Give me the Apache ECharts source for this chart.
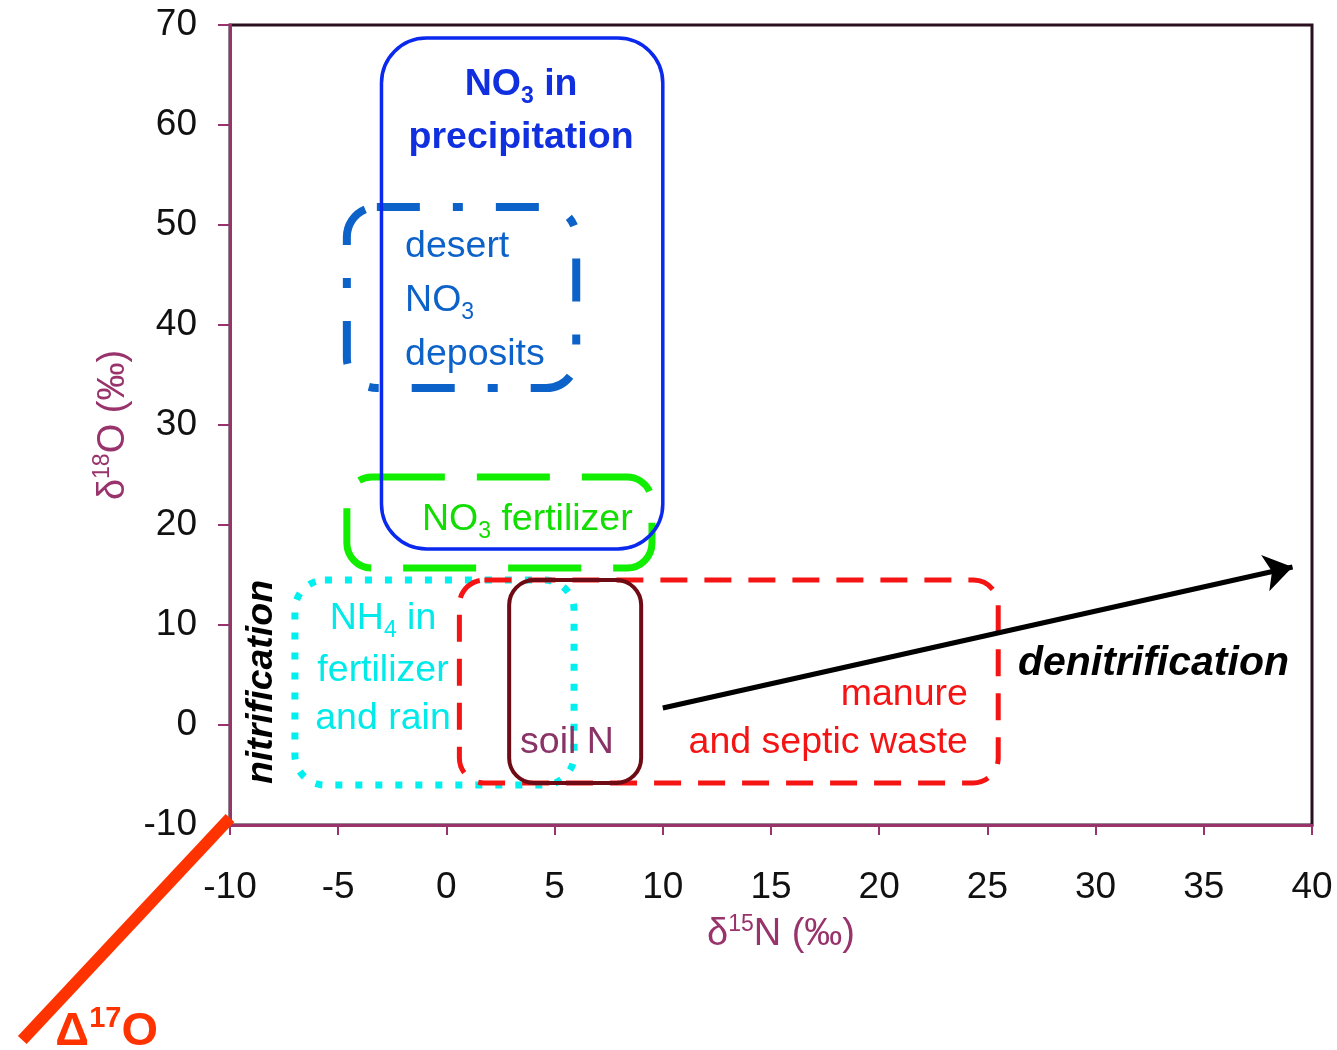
<!DOCTYPE html>
<html><head><meta charset="utf-8">
<script src="https://cdn.jsdelivr.net/npm/echarts@6/dist/echarts.min.js"></script>
<style>html,body{margin:0;padding:0;background:#fff}#c{width:1337px;height:1050px}</style>
</head><body><div id="c"></div>
<script>
// ---- data ----
const xTickValues = [-10, -5, 0, 5, 10, 15, 20, 25, 30, 35, 40];
const yTickValues = [-10, 0, 10, 20, 30, 40, 50, 60, 70];
const boxNames  = ['NO3 fertilizer', 'NH4 in fertilizer and rain', 'manure and septic waste', 'soil N', 'desert NO3 deposits', 'NO3 in precipitation'];
const boxN15Min = [-4.6, -7.0, 0.6, 2.9, -4.6, -3.0];
const boxN15Max = [9.5, 5.9, 25.5, 9.0, 6.0, 10.0];
const boxO18Min = [15.7, -6.0, -5.8, -5.8, 33.7, 17.6];
const boxO18Max = [24.8, 14.5, 14.5, 14.5, 51.8, 68.7];
const denitN15 = [10.0, 39.1];
const denitO18 = [1.7, 15.8];
const d17oN15 = [-10.0, -19.6];
const d17oO18 = [-9.3, -31.5];
// label anchor points (d15N, d18O)
const labelN15 = [3.45, 3.45, -1.91, -1.91, -1.91, -1.13, -2.93, -2.93, -2.93, 5.57, 24.1, 24.1, 26.41, -8.52, -15.7];
const labelO18 = [64.3, 59.0, 48.1, 42.7, 37.3, 20.8, 10.9, 5.7, 0.9, -1.5, 3.3, -1.5, 6.1, 4.3, -30.5];

// ---- styles ----
const FF = '"Liberation Sans", Arial, Helvetica, sans-serif';
const AX = '#99336b';
const boxStyles = [
  {stroke: '#11ee00', lineWidth: 7, lineDash: [73, 32], r: 25},
  {stroke: '#00f0f0', lineWidth: 7, lineDash: [7, 13], r: 30},
  {stroke: '#f51414', lineWidth: 5, lineDash: [27, 17], r: 25},
  {stroke: '#6e0b14', lineWidth: 4, lineDash: null, r: 25},
  {stroke: '#0d62c9', lineWidth: 8, lineDash: [43, 33, 10, 33], r: 30},
  {stroke: '#0a28ee', lineWidth: 3.5, lineDash: null, r: 45}
];
function tok(size, weight, fstyle, color, extra) {
  return Object.assign({fontSize: size, fontWeight: weight, fontStyle: fstyle, fontFamily: FF, fill: color}, extra || {});
}
function subRich(size, weight, color) {
  return {
    m: tok(size, weight, 'normal', color, {lineHeight: size + 4.5, verticalAlign: 'top'}),
    s: tok(Math.round(size * 0.62), weight, 'normal', color, {verticalAlign: 'bottom'})
  };
}
const BL = '#1030e0', DS = '#0d62c9', GR = '#11dd00', CY = '#00eaea', RD = '#f51414';
const TS = 37.5;
const SD = 5; // pixel nudge for text set with subscript rich style
const labelDefs = [
  {text: '{m|NO}{s|3}{m| in}', rich: subRich(TS, 'bold', BL), align: 'center', dy: SD},
  {text: '{m|precipitation}', rich: subRich(TS, 'bold', BL), align: 'center', dy: SD},
  {text: '{m|desert}', rich: subRich(TS, 'normal', DS), align: 'left', dy: SD},
  {text: '{m|NO}{s|3}', rich: subRich(TS, 'normal', DS), align: 'left', dy: SD},
  {text: '{m|deposits}', rich: subRich(TS, 'normal', DS), align: 'left', dy: SD},
  {text: '{m|NO}{s|3}{m| fertilizer}', rich: subRich(TS, 'normal', GR), align: 'left', dy: SD},
  {text: '{m|NH}{s|4}{m| in}', rich: subRich(TS, 'normal', CY), align: 'center', dy: SD},
  {text: '{m|fertilizer}', rich: subRich(TS, 'normal', CY), align: 'center', dy: SD},
  {text: '{m|and rain}', rich: subRich(TS, 'normal', CY), align: 'center', dy: SD},
  {text: '{m|soil N}', rich: subRich(TS, 'normal', '#8a3366'), align: 'center', dy: SD},
  {text: '{m|manure}', rich: subRich(TS, 'normal', RD), align: 'right', dy: SD},
  {text: '{m|and septic waste}', rich: subRich(TS, 'normal', RD), align: 'right', dy: SD},
  {text: '{b|denitrification}', rich: {b: tok(41, 'bold', 'italic', '#000', {lineHeight: 46})}, align: 'left'},
  {text: '{b|nitrification}', rich: {b: tok(37.5, 'bold', 'italic', '#000', {lineHeight: 42})}, align: 'center', rotate: Math.PI / 2},
  {text: '{a|Δ}{p|17}{a|O}', rich: {
      a: tok(47, 'bold', 'normal', '#ff3300', {lineHeight: 52, verticalAlign: 'bottom'}),
      p: tok(29, 'bold', 'normal', '#ff3300', {lineHeight: 24, verticalAlign: 'top'})
    }, align: 'center'}
];

const chart = echarts.init(document.getElementById('c'), null, {renderer: 'canvas'});
const boxData = boxNames.map((n, i) => ({name: n, value: [boxN15Min[i], boxN15Max[i], boxO18Min[i], boxO18Max[i]]}));
const labelData = labelN15.map((x, i) => [x, labelO18[i]]);

const nameRich = {
  d: {fontSize: 38, fontFamily: FF, color: AX, lineHeight: 44},
  p: {fontSize: 23, fontFamily: FF, color: AX, lineHeight: 16, verticalAlign: 'top'},
  n: {fontSize: 38, fontFamily: FF, color: AX, lineHeight: 44}
};

chart.setOption({
  animation: false,
  backgroundColor: '#fff',
  grid: {left: 230, right: 25, top: 25, bottom: 225, show: true, borderColor: '#2a0f1f', borderWidth: 3, backgroundColor: 'transparent'},
  xAxis: {
    type: 'value', min: xTickValues[0], max: xTickValues[xTickValues.length - 1], interval: 5,
    axisLine: {show: true, onZero: false, lineStyle: {color: AX, width: 3}},
    axisTick: {show: true, length: 10, lineStyle: {color: AX, width: 2}},
    axisLabel: {margin: 44, fontSize: 37, color: '#111', fontFamily: FF},
    splitLine: {show: false},
    name: '{d|δ}{p|15}{n|N (‰)}', nameLocation: 'middle', nameGap: 88,
    nameTextStyle: {padding: [0, 0, 0, 20], rich: nameRich}
  },
  yAxis: {
    type: 'value', min: yTickValues[0], max: yTickValues[yTickValues.length - 1], interval: 10,
    axisLine: {show: true, onZero: false, lineStyle: {color: AX, width: 3}},
    axisTick: {show: true, length: 12, lineStyle: {color: AX, width: 2}},
    axisLabel: {margin: 33, fontSize: 37, color: '#111', fontFamily: FF},
    splitLine: {show: false},
    name: '{d|δ}{p|18}{n|O (‰)}', nameLocation: 'middle', nameGap: 94,
    nameTextStyle: {rich: nameRich}
  },
  series: [
    {
      type: 'custom', name: 'sources', coordinateSystem: 'cartesian2d', silent: true, z: 2,
      encode: {x: [0, 1], y: [2, 3]},
      data: boxData,
      renderItem: function (params, api) {
        const i = params.dataIndex;
        const p0 = api.coord([api.value(0), api.value(3)]);
        const p1 = api.coord([api.value(1), api.value(2)]);
        const s = boxStyles[i];
        return {
          type: 'rect',
          shape: {x: p0[0], y: p0[1], width: p1[0] - p0[0], height: p1[1] - p0[1], r: s.r},
          style: {fill: 'none', stroke: s.stroke, lineWidth: s.lineWidth, lineDash: s.lineDash, lineCap: 'butt'}
        };
      }
    },
    {
      type: 'lines', coordinateSystem: 'cartesian2d', silent: true, z: 4, clip: false,
      data: [{coords: [[denitN15[0], denitO18[0]], [denitN15[1], denitO18[1]]]}],
      lineStyle: {color: '#000', width: 5, opacity: 1},
      symbol: ['none', 'arrow'], symbolSize: 28
    },
    {
      type: 'lines', coordinateSystem: 'cartesian2d', silent: true, z: 4, clip: false,
      data: [{coords: [[d17oN15[0], d17oO18[0]], [d17oN15[1], d17oO18[1]]]}],
      lineStyle: {color: '#ff3300', width: 12, opacity: 1, cap: 'butt'},
      symbol: ['none', 'none']
    },
    {
      type: 'custom', name: 'labels', coordinateSystem: 'cartesian2d', silent: true, z: 5, clip: false,
      encode: {x: 0, y: 1},
      data: labelData,
      renderItem: function (params, api) {
        const i = params.dataIndex;
        const p = api.coord([api.value(0), api.value(1)]);
        const d = labelDefs[i];
        return {
          type: 'text', x: p[0], y: p[1] + (d.dy || 0), rotation: d.rotate || 0,
          style: {text: d.text, rich: d.rich, align: d.align, verticalAlign: 'middle', fontFamily: FF, fontSize: TS}
        };
      }
    }
  ]
});
</script>
</body></html>
